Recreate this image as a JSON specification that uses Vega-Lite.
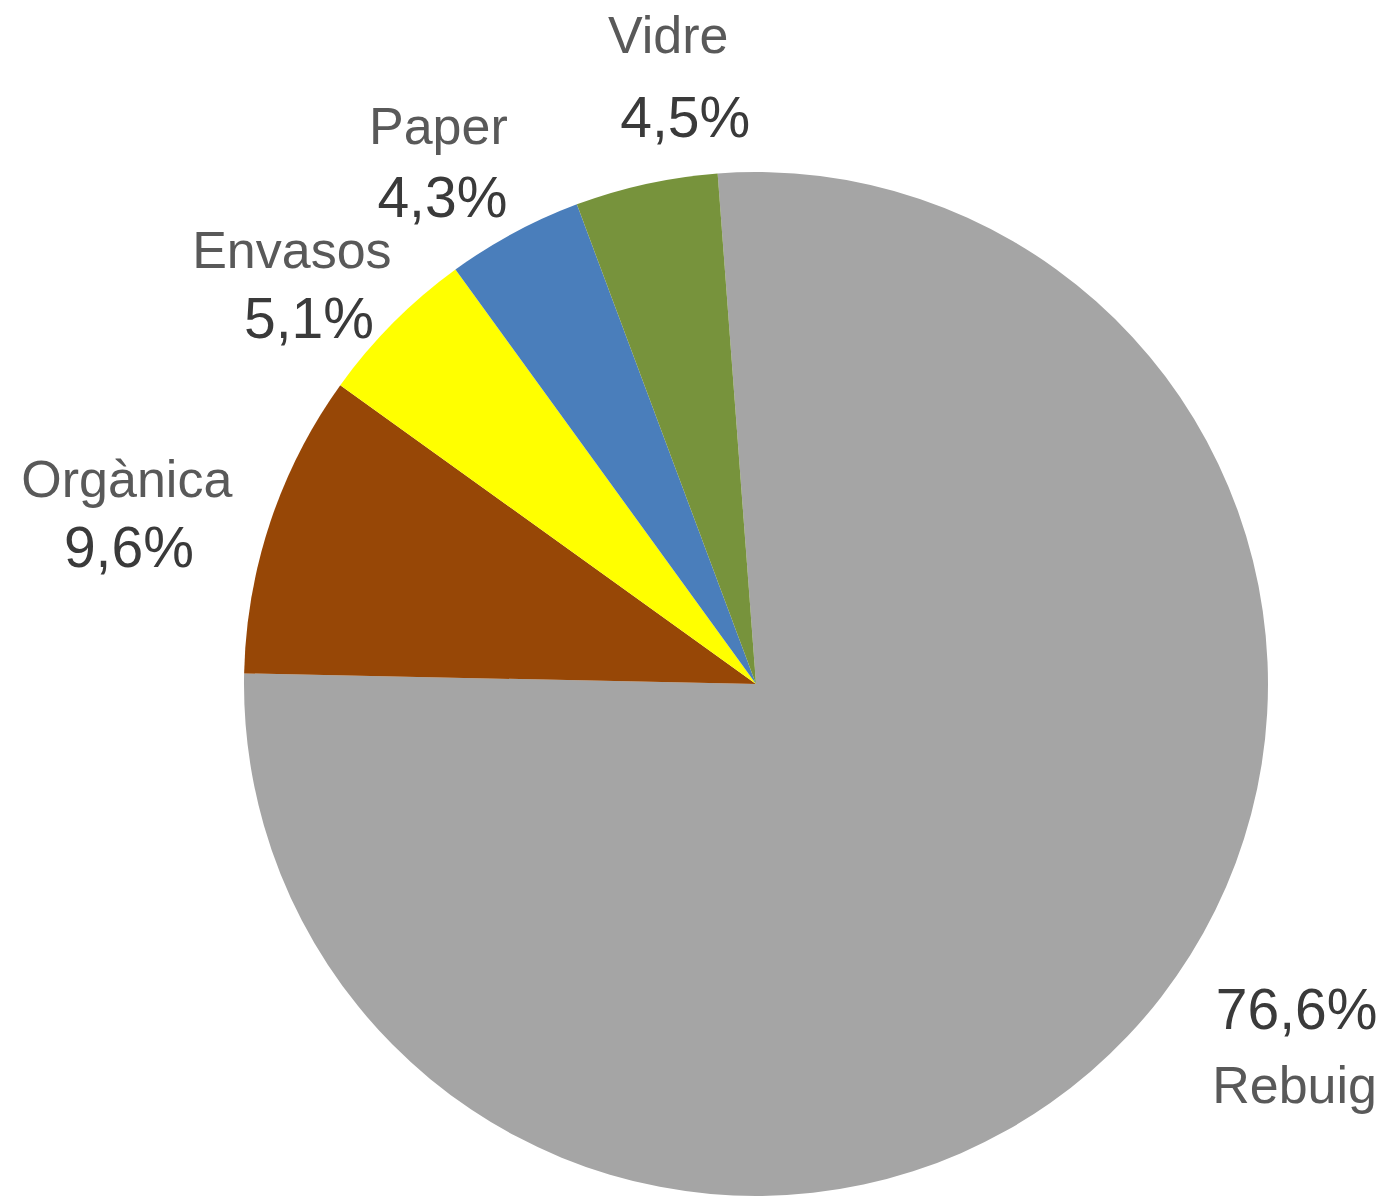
{
  "$schema": "https://vega.github.io/schema/vega-lite/v6.json",
  "width": 1024,
  "height": 1024,
  "autosize": "none",
  "padding": {"left": 244, "top": 172, "right": 124, "bottom": 4},
  "background": "white",
  "config": {"view": {"stroke": null}},
  "data": {
    "values": [
      {"categoria": "Rebuig", "percent": 76.6, "etiqueta": "76,6%", "ordre": 1},
      {"categoria": "Orgànica", "percent": 9.6, "etiqueta": "9,6%", "ordre": 2},
      {"categoria": "Envasos", "percent": 5.1, "etiqueta": "5,1%", "ordre": 3},
      {"categoria": "Paper", "percent": 4.3, "etiqueta": "4,3%", "ordre": 4},
      {"categoria": "Vidre", "percent": 4.5, "etiqueta": "4,5%", "ordre": 5}
    ]
  },
  "encoding": {
    "theta": {"field": "percent", "type": "quantitative", "stack": true, "scale": {"range": [-0.075, 6.2082]}},
    "order": {"field": "ordre", "type": "quantitative", "sort": "ascending"}
  },
  "layer": [
    {
      "mark": {"type": "arc", "outerRadius": 512},
      "encoding": {
        "color": {
          "field": "categoria",
          "type": "nominal",
          "scale": {
            "domain": ["Rebuig", "Orgànica", "Envasos", "Paper", "Vidre"],
            "range": ["#A5A5A5", "#974706", "#FFFF00", "#4A7EBB", "#77933C"]
          },
          "legend": null
        }
      }
    },
    {
      "mark": {"type": "text", "radius": 600, "dx": 41, "dy": -45, "font": "Liberation Sans", "fontSize": 52, "fill": "#595959", "align": "center", "baseline": "alphabetic"},
      "encoding": {"text": {"condition": {"test": "datum.categoria === 'Vidre'", "field": "categoria"}, "value": ""}}
    },
    {
      "mark": {"type": "text", "radius": 600, "dx": 58, "dy": 39, "font": "Liberation Sans", "fontSize": 57, "fill": "#3A3A3A", "align": "center", "baseline": "alphabetic"},
      "encoding": {"text": {"condition": {"test": "datum.categoria === 'Vidre'", "field": "etiqueta"}, "value": ""}}
    },
    {
      "mark": {"type": "text", "radius": 600, "dx": -34, "dy": -11, "font": "Liberation Sans", "fontSize": 52, "fill": "#595959", "align": "center", "baseline": "alphabetic"},
      "encoding": {"text": {"condition": {"test": "datum.categoria === 'Paper'", "field": "categoria"}, "value": ""}}
    },
    {
      "mark": {"type": "text", "radius": 600, "dx": -30, "dy": 62, "font": "Liberation Sans", "fontSize": 57, "fill": "#3A3A3A", "align": "center", "baseline": "alphabetic"},
      "encoding": {"text": {"condition": {"test": "datum.categoria === 'Paper'", "field": "etiqueta"}, "value": ""}}
    },
    {
      "mark": {"type": "text", "radius": 600, "dx": -39, "dy": 7, "font": "Liberation Sans", "fontSize": 52, "fill": "#595959", "align": "center", "baseline": "alphabetic"},
      "encoding": {"text": {"condition": {"test": "datum.categoria === 'Envasos'", "field": "categoria"}, "value": ""}}
    },
    {
      "mark": {"type": "text", "radius": 600, "dx": -22, "dy": 77, "font": "Liberation Sans", "fontSize": 57, "fill": "#3A3A3A", "align": "center", "baseline": "alphabetic"},
      "encoding": {"text": {"condition": {"test": "datum.categoria === 'Envasos'", "field": "etiqueta"}, "value": ""}}
    },
    {
      "mark": {"type": "text", "radius": 600, "dx": -60, "dy": 3, "font": "Liberation Sans", "fontSize": 52, "fill": "#595959", "align": "center", "baseline": "alphabetic"},
      "encoding": {"text": {"condition": {"test": "datum.categoria === 'Orgànica'", "field": "categoria"}, "value": ""}}
    },
    {
      "mark": {"type": "text", "radius": 600, "dx": -58, "dy": 73, "font": "Liberation Sans", "fontSize": 57, "fill": "#3A3A3A", "align": "center", "baseline": "alphabetic"},
      "encoding": {"text": {"condition": {"test": "datum.categoria === 'Orgànica'", "field": "etiqueta"}, "value": ""}}
    },
    {
      "mark": {"type": "text", "radius": 600, "dx": 103, "dy": 6, "font": "Liberation Sans", "fontSize": 52, "fill": "#595959", "align": "center", "baseline": "alphabetic"},
      "encoding": {"text": {"condition": {"test": "datum.categoria === 'Rebuig'", "field": "categoria"}, "value": ""}}
    },
    {
      "mark": {"type": "text", "radius": 600, "dx": 105, "dy": -68, "font": "Liberation Sans", "fontSize": 57, "fill": "#3A3A3A", "align": "center", "baseline": "alphabetic"},
      "encoding": {"text": {"condition": {"test": "datum.categoria === 'Rebuig'", "field": "etiqueta"}, "value": ""}}
    }
  ]
}
